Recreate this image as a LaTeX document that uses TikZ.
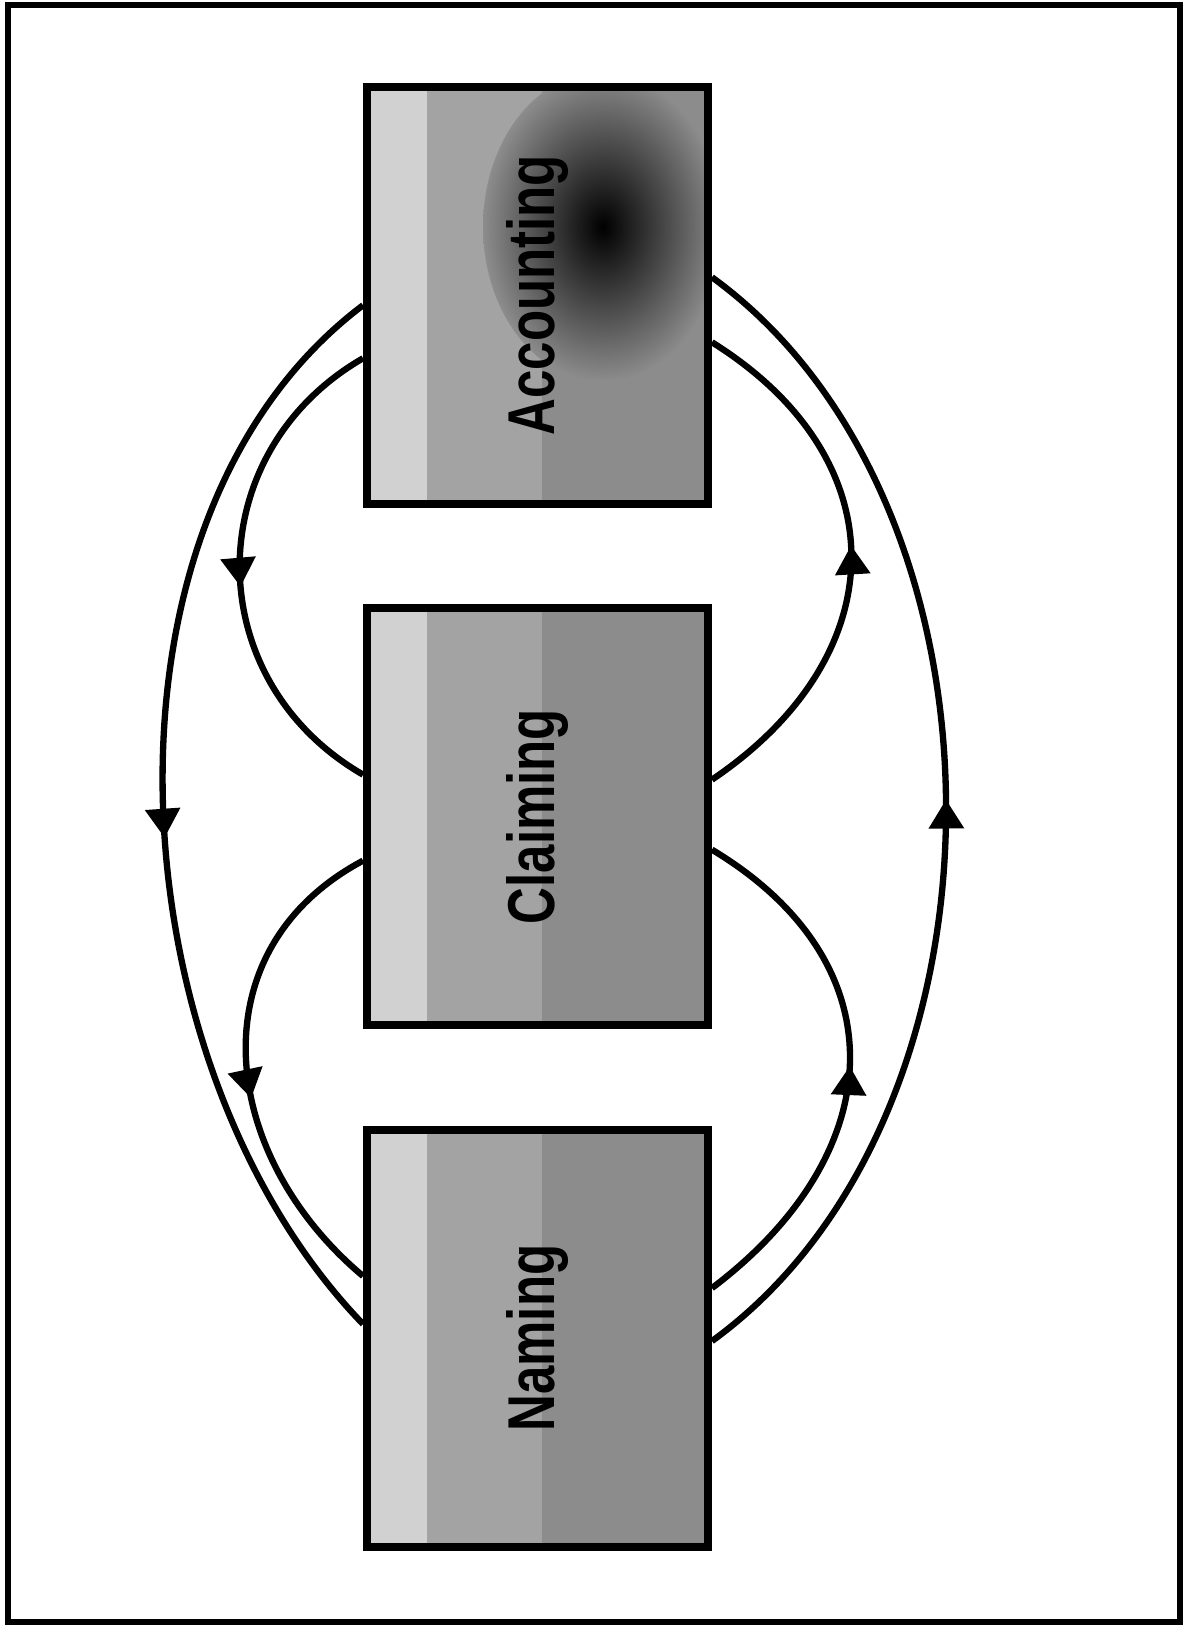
\documentclass[tikz,border=0pt]{standalone}
\usepackage{fontspec}
\setsansfont{Liberation Sans}
\usetikzlibrary{positioning,arrows.meta,decorations.markings}

\newcommand\panelbands{%
  \fill[black!18] (path picture bounding box.south west) rectangle ([xshift=1.2cm]path picture bounding box.north west);
  \fill[black!36] ([xshift=1.2cm]path picture bounding box.south west) rectangle ([xshift=3.5cm]path picture bounding box.north west);
  \fill[black!45] ([xshift=3.5cm]path picture bounding box.south west) rectangle (path picture bounding box.north east);
}

\tikzset{
  panel/.style={draw, line width=4.5pt, inner sep=0pt,
    minimum width=6.82cm, minimum height=8.34cm,
    font=\sffamily\bfseries\fontsize{29}{34}\selectfont,
    path picture={\panelbands}},
  darkpanel/.style={panel, path picture={\panelbands
    \shade[inner color=black, outer color=black!45]
      ([xshift=-2.1cm,yshift=-2.8cm]path picture bounding box.north east) ellipse (2.4cm and 3.1cm);}},
  flow/.style={line width=3.6pt, postaction={decorate},
    decoration={markings, mark=at position #1 with {\arrow{Triangle[width=0.68cm,length=0.58cm]}}}},
  flow/.default=0.5
}

\begin{document}
\begin{tikzpicture}
    \useasboundingbox (0,0) rectangle (23.72,-32.54);
    % Cornice
    \draw[line width=0.12cm] (0.16,-0.1) rectangle (23.6,-32.44);

    % Pannelli
    \node[darkpanel] (acc) at (10.75,-5.905) {\rotatebox{90}{\scalebox{1}[1.3]{Accounting}}};
    \node[panel, below=1.93cm of acc] (cla) {\rotatebox{90}{\scalebox{1}[1.3]{Claiming}}};
    \node[panel, below=1.93cm of cla] (nam) {\rotatebox{90}{\scalebox{1}[1.3]{Naming}}};

    % Archi a sinistra (verso il basso)
    \draw[flow=0.525] ([yshift=-0.2cm]acc.west) to[out=217, in=134, looseness=0.9] ([yshift=0.28cm]nam.west);
    \draw[flow=0.54] ([yshift=-1.26cm]acc.west) to[out=210, in=150, looseness=1.17] ([yshift=0.84cm]cla.west);
    \draw[flow=0.57] ([yshift=-0.88cm]cla.west) to[out=208, in=140, looseness=1.17] ([yshift=1.24cm]nam.west);

    % Archi a destra (verso l'alto)
    \draw[flow=0.508] ([yshift=-0.06cm]nam.east) to[out=36, in=-36, looseness=0.93] ([yshift=0.36cm]acc.east);
    \draw[flow=0.527] ([yshift=0.74cm]cla.east) to[out=34, in=-32, looseness=1.3] ([yshift=-0.94cm]acc.east);
    \draw[flow] ([yshift=1.0cm]nam.east) to[out=37, in=-31, looseness=1.3] ([yshift=-0.66cm]cla.east);
\end{tikzpicture}
\end{document}
